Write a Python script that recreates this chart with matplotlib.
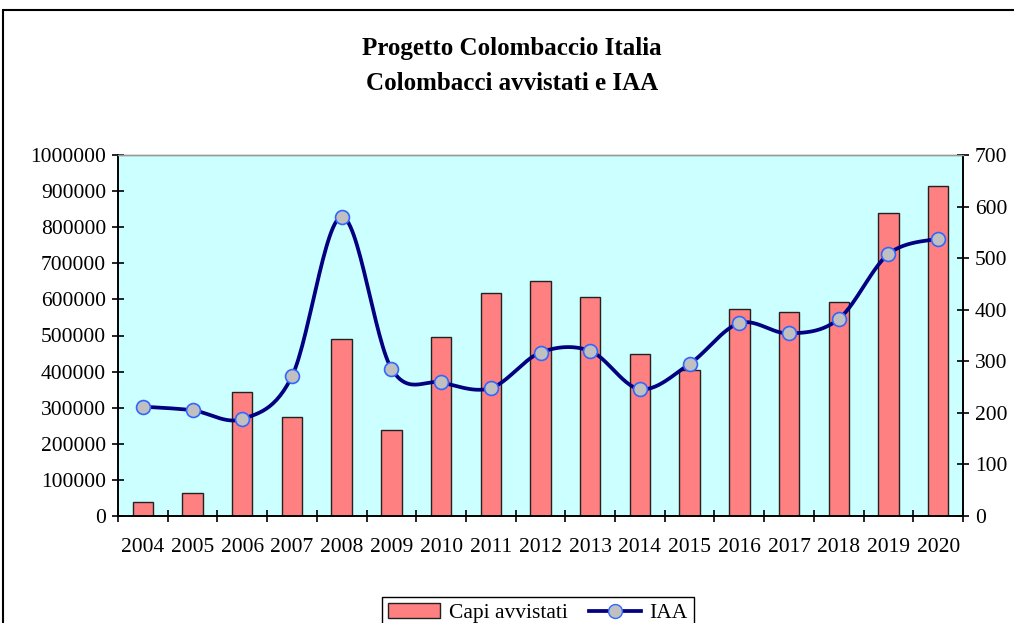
import matplotlib
matplotlib.use("Agg")
import matplotlib.pyplot as plt
from matplotlib.patches import Rectangle
from matplotlib.ticker import MultipleLocator, FuncFormatter
import numpy as np

years = [str(y) for y in range(2004, 2021)]
capi_avvistati = [38000, 63000, 344000, 275000, 489000, 238000, 497000, 619000, 652000,
                  607000, 449000, 404000, 573000, 566000, 592000, 840000, 914000]
iaa = [212, 205, 188, 271, 580, 286, 259, 248, 317,
       320, 246, 295, 374, 354, 382, 508, 538]

plt.rcParams['font.family'] = ['Liberation Serif', 'DejaVu Serif']


def smooth(xs, ys, n=30):
    # Excel-like smoothed line: Catmull-Rom segments drawn as cubic Beziers
    xs = np.asarray(xs, float)
    ys = np.asarray(ys, float)
    px = np.concatenate([[xs[0]], xs, [xs[-1]]])
    py = np.concatenate([[ys[0]], ys, [ys[-1]]])
    t = np.linspace(0, 1, n)
    outx, outy = [], []
    for i in range(1, len(px) - 2):
        p0, p1, p2, p3 = (np.array([px[j], py[j]]) for j in (i - 1, i, i + 1, i + 2))
        c1 = p1 + (p2 - p0) / 6
        c2 = p2 - (p3 - p1) / 6
        b = ((1 - t) ** 3)[:, None] * p1 + (3 * (1 - t) ** 2 * t)[:, None] * c1 \
            + (3 * (1 - t) * t ** 2)[:, None] * c2 + (t ** 3)[:, None] * p2
        outx.extend(b[:, 0])
        outy.extend(b[:, 1])
    return outx, outy


fig = plt.figure(figsize=(10.14, 6.23), dpi=100)
ax = fig.add_axes([118 / 1014, 1 - 516 / 623, (963 - 118) / 1014, (516 - 155) / 623])
ax.set_facecolor('#CCFFFF')

x = np.arange(len(years))
bars = ax.bar(x, capi_avvistati, width=0.41, color='#FF8080', edgecolor='#222222',
              linewidth=1.0, label='Capi avvistati', zorder=2)
ax.set_xlim(-0.5, len(years) - 0.5)
ax.set_ylim(0, 1000000)
ax.yaxis.set_major_locator(MultipleLocator(100000))
ax.yaxis.set_major_formatter(FuncFormatter(lambda v, p: f"{int(round(v))}"))
ax.set_xticks(x)
ax.set_xticklabels(years)
ax.set_xticks(np.arange(-0.5, len(years), 1.0), minor=True)
ax.tick_params(axis='x', which='major', length=0, pad=16, labelsize=15.5)
ax.tick_params(axis='x', which='minor', direction='inout', length=9, width=1.2)
ax.tick_params(axis='y', direction='inout', length=9, width=1.2, labelsize=15.5, pad=4)

ax2 = ax.twinx()
ax2.set_ylim(0, 700)
ax2.yaxis.set_major_locator(MultipleLocator(100))
ax2.tick_params(axis='y', direction='inout', length=9, width=1.2, labelsize=15.5, pad=4)
sx, sy = smooth(x, iaa)
ax2.plot(sx, sy, color='#000080', linewidth=2.7, zorder=3, solid_capstyle='round')
ax2.plot(x, iaa, linestyle='none', marker='o', markersize=10, markerfacecolor='#C0C0C0',
         markeredgecolor='#3366FF', markeredgewidth=1.2, zorder=4)

for a in (ax, ax2):
    a.spines['top'].set_color('#999999')
    a.spines['top'].set_linewidth(1.0)
    for s in ('left', 'right', 'bottom'):
        a.spines[s].set_color('black')
        a.spines[s].set_linewidth(1.2)

fig.text(512 / 1014, 1 - 48 / 623, 'Progetto Colombaccio Italia', ha='center', va='center',
         fontsize=18, fontweight='bold')
fig.text(512 / 1014, 1 - 84 / 623, 'Colombacci avvistati e IAA', ha='center', va='center',
         fontsize=18, fontweight='bold')

line_handle = plt.Line2D([], [], color='#000080', linewidth=2.7, marker='o', markersize=10,
                         markerfacecolor='#C0C0C0', markeredgecolor='#3366FF')
leg = fig.legend([bars, line_handle], ['Capi avvistati', 'IAA'], loc='upper center',
                 bbox_to_anchor=(538 / 1014, 1 - 586 / 623), ncol=2, fontsize=15.5,
                 frameon=True, fancybox=False, edgecolor='black', framealpha=1,
                 handlelength=2.4, columnspacing=1.0, handletextpad=0.4, borderpad=0.3)
leg.get_frame().set_linewidth(1.0)

fig.add_artist(Rectangle((3 / 1014, -0.1), 1.2, 1.1 - 10 / 623, transform=fig.transFigure,
                         fill=False, edgecolor='black', linewidth=1.5))

fig.savefig('out.png', dpi=100)
